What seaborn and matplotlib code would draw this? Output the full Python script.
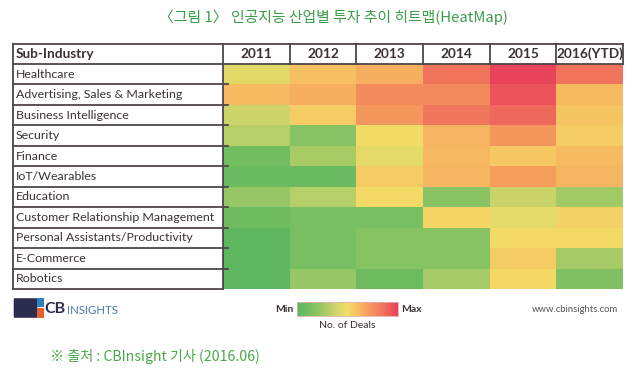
import pandas as pd
import seaborn as sns
import matplotlib.pyplot as plt
from matplotlib.colors import LinearSegmentedColormap
from matplotlib.patches import Rectangle, FancyBboxPatch

# 데이터 (그림에서 읽은 상대값, 0=Min ~ 10=Max)
industries = ['Healthcare', 'Advertising, Sales & Marketing', 'Business Intelligence',
              'Security', 'Finance', 'IoT/Wearables', 'Education',
              'Customer Relationship Management', 'Personal Assistants/Productivity',
              'E-Commerce', 'Robotics']
years = ['2011', '2012', '2013', '2014', '2015', '2016(YTD)']

healthcare = [4.4, 6.0, 6.5, 8.5, 9.9, 8.5]
advertising = [6.1, 6.5, 7.7, 7.7, 9.4, 6.1]
business_intel = [3.8, 5.6, 7.3, 8.4, 8.8, 5.8]
security = [3.2, 1.8, 5.0, 6.3, 7.3, 5.6]
finance = [1.0, 2.8, 4.5, 6.2, 5.7, 6.1]
iot = [0.7, 0.7, 5.6, 6.3, 7.0, 6.3]
education = [2.3, 3.2, 5.1, 1.9, 3.7, 2.6]
crm = [0.8, 1.2, 1.2, 5.3, 4.5, 5.4]
personal = [0.1, 1.2, 1.8, 1.8, 5.1, 5.1]
ecommerce = [0.1, 1.2, 1.8, 1.8, 5.6, 2.7]
robotics = [0.1, 2.3, 0.8, 2.7, 5.2, 1.5]

df = pd.DataFrame([healthcare, advertising, business_intel, security, finance, iot,
                   education, crm, personal, ecommerce, robotics],
                  index=industries, columns=years)

# 초록 -> 노랑 -> 주황 -> 빨강
cmap = LinearSegmentedColormap.from_list('deals', [
    (0.0, '#5bb65e'), (0.2, '#8cc464'), (0.4, '#d4d66a'), (0.5, '#f3dd66'),
    (0.6, '#f6bf62'), (0.7, '#f59f5c'), (0.85, '#f0745c'), (1.0, '#e8405a')])

W, H = 639, 372


def px(x0, y0, x1, y1):
    return [x0 / W, 1 - y1 / H, (x1 - x0) / W, (y1 - y0) / H]


fig = plt.figure(figsize=(W / 100, H / 100), dpi=100)
fig.patch.set_facecolor('white')

ax = fig.add_axes(px(223, 64, 623, 289))
sns.heatmap(df, ax=ax, cmap=cmap, vmin=0, vmax=10, cbar=False,
            xticklabels=False, yticklabels=False)
ax.set_xlabel('')
ax.set_ylabel('')

# 표 테두리와 라벨 (heatmap 좌표계 기준)
lab_w = 210 / (400 / 6)
head_h = 20 / (225 / 11)
n_rows, n_cols = df.shape
line_c = '#4f4646'
txt_c = '#3a3232'
lw = 1.3

def hline(y, x0, x1):
    ax.plot([x0, x1], [y, y], color=line_c, lw=lw, clip_on=False, solid_capstyle='projecting')

def vline(x, y0, y1):
    ax.plot([x, x], [y0, y1], color=line_c, lw=lw, clip_on=False, solid_capstyle='projecting')

hline(-head_h, -lab_w, n_cols)
hline(0, -lab_w, n_cols)
for i in range(1, n_rows + 1):
    hline(i, -lab_w, 0.08 if i < n_rows else 0)
vline(-lab_w, -head_h, n_rows)
vline(0, -head_h, n_rows)
for j in range(1, n_cols + 1):
    vline(j, -head_h, 0)

ax.text(-lab_w + 0.04, -head_h / 2, 'Sub-Industry', ha='left', va='center',
        fontsize=9.8, fontweight='bold', color=txt_c, family='Lato')
for j, yr in enumerate(years):
    ax.text(j + 0.5, -head_h / 2, yr, ha='center', va='center',
            fontsize=9.8, fontweight='bold', color=txt_c, family='Lato')
for i, name in enumerate(industries):
    ax.text(-lab_w + 0.04, i + 0.5, name, ha='left', va='center',
            fontsize=8.9, color=txt_c, family='Lato')

# 컬러바
cax = fig.add_axes(px(297, 302, 398, 316))
cb = fig.colorbar(ax.collections[0], cax=cax, orientation='horizontal')
cb.set_ticks([])
cb.outline.set_edgecolor('#e6b0b0')
cb.outline.set_linewidth(0.6)
fig.text(294 / W, 1 - 309 / H, 'Min', ha='right', va='center', fontsize=7.5,
         color=txt_c, family='Lato', fontweight='bold')
fig.text(401 / W, 1 - 309 / H, 'Max', ha='left', va='center', fontsize=7.5,
         color=txt_c, family='Lato', fontweight='bold')
fig.text(347 / W, 1 - 325 / H, 'No. of Deals', ha='center', va='center', fontsize=7.5,
         color=txt_c, family='Lato')

# CB Insights 로고
deco = fig.add_axes([0, 0, 1, 1])
deco.set_xlim(0, W)
deco.set_ylim(H, 0)
deco.axis('off')
deco.add_patch(FancyBboxPatch((15, 299.5), 21, 17, boxstyle='round,pad=1.3',
                              fc='#2b2d4f', ec='none'))
deco.add_patch(Rectangle((37, 298.2), 6.5, 8.5, fc='#2f7fc1', ec='none'))
deco.add_patch(Rectangle((37, 307.6), 6.5, 10.2, fc='#e8602c', ec='none'))
deco.text(44, 309, 'CB', ha='left', va='center', fontsize=11.5, fontweight='bold',
          color='#2b2d4f', family='Lato')
deco.text(67, 310, 'INSIGHTS', ha='left', va='center', fontsize=8.2,
          color='#4b78a8', family='Lato')
deco.text(618, 309, 'www.cbinsights.com', ha='right', va='center', fontsize=6.8,
          color='#555555', family='Lato')

# 제목 / 출처
fig.text(333 / W, 1 - 17 / H, '〈그림 1〉 인공지능 산업별 투자 추이 히트맵(HeatMap)',
         ha='center', va='center', fontsize=10.7, color='#3a9d4a',
         family=['Noto Sans CJK KR', 'DejaVu Sans'])
fig.text(50 / W, 1 - 357 / H, '※ 출처 : CBInsight 기사 (2016.06)',
         ha='left', va='center', fontsize=10.2, color='#4aa84a',
         family=['Noto Sans CJK KR', 'DejaVu Sans'])

fig.savefig('out.png', dpi=100, facecolor='white')
